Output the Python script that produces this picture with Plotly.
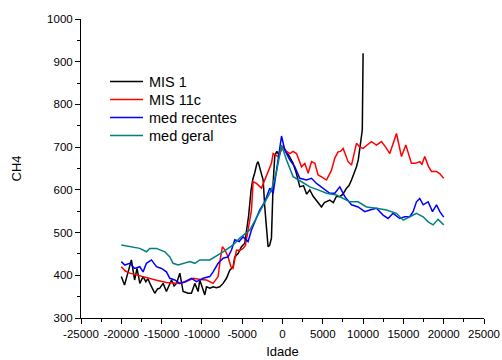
import plotly.graph_objects as go

# ---- data ----
mis1_x = [-20000, -19600, -19150, -18750, -18350, -18050, -17700, -17300, -16950, -16700, -16300, -15850,
          -15500, -15230, -14810, -14400, -14100, -13770, -13450, -13150, -12740, -12330, -11710, -11300,
          -10880, -10470, -10260, -9850, -9640, -9430, -9000, -8610, -8200, -7780, -7370, -6950, -6540,
          -6130, -5920, -5510, -5090, -4680, -4470, -4200, -3900, -3680, -3440, -3200, -3030, -2800, -2600,
          -2400, -2200, -1990, -1790, -1600, -1370, -1160, -955, -700, -400, -120, 80, 400, 800, 1315, 1700,
          2150, 2600, 3000, 3390, 3800, 4200, 4840, 5200, 5870, 6300, 6700, 7110, 7500, 7940, 8250, 8560,
          8900, 9180, 9400, 9590, 9800, 9900, 10000]
mis1_y = [397, 377, 408, 436, 389, 416, 381, 397, 385, 392, 375, 358,
          368, 370, 381, 362, 375, 389, 375, 381, 405, 362, 358, 358,
          381, 362, 389, 362, 354, 373, 370, 373, 371, 373, 381, 393, 412,
          420, 443, 451, 467, 475, 500, 540, 600, 625, 640, 660, 666, 650, 635,
          623, 560, 499, 467, 470, 487, 616, 680, 690, 680, 701, 701, 690, 680, 662, 640,
          607, 610, 590, 600, 585, 575, 560, 570, 576, 570, 585, 584, 590, 604, 610, 623,
          640, 654, 670, 693, 724, 740, 920]

mis11_x = [-20000, -19500, -18950, -18000, -17000, -16470, -15500, -14400, -13500, -12740, -12000, -11090,
           -10200, -9430, -8610, -7990, -7700, -7450, -7100, -6750, -6400, -6130, -5710, -5300, -4890, -4600,
           -4270, -3850, -3650, -3230, -2610, -1990, -1370, -1160, -550, -120, 80, 500, 910, 1300, 1740, 2360,
           2770, 3180, 3600, 4010, 4420, 4900, 5460, 6080, 6500, 6900, 7200, 7520, 8140, 8560, 9180, 9600,
           10000, 10500, 11040, 11660, 12280, 12800, 13310, 14140, 14760, 15300, 16000, 16500, 17030, 17300,
           17650, 18100, 18490, 19110, 19500, 20000]
mis11_y = [420, 410, 405, 400, 396, 393, 388, 383, 382, 381, 385, 393,
           390, 389, 381, 397, 440, 467, 458, 443, 420, 416, 459, 458, 463, 470,
           506, 553, 619, 615, 604, 631, 662, 685, 678, 693, 701, 690, 685, 690, 685, 654,
           662, 639, 666, 662, 635, 630, 623, 646, 675, 689, 690, 697, 666, 658, 709, 700,
           697, 705, 713, 705, 713, 700, 685, 732, 678, 705, 662, 662, 666, 660,
           678, 655, 643, 643, 638, 627]

rec_x = [-20000, -19570, -18950, -18330, -17710, -17300, -16880, -16260, -15640, -15010, -14400, -13980,
         -13360, -12740, -12120, -11290, -10670, -9850, -9020, -8610, -7990, -7370, -6750, -6330, -5920,
         -5380, -4890, -4270, -3850, -3300, -2820, -2200, -1580, -1160, -740, -330, -120, 290, 910, 1530,
         2150, 2980, 3600, 4220, 5040, 5870, 6490, 7110, 7730, 8560, 9380, 10210, 10830, 11660, 12480,
         13100, 13720, 14550, 15170, 15790, 16200, 16620, 17030, 17450, 18070, 18610, 19110, 19520, 20000]
rec_y = [432, 424, 428, 416, 420, 408, 428, 436, 420, 416, 408, 393,
         389, 381, 385, 393, 385, 393, 397, 408, 428, 440, 443, 459, 483,
         479, 490, 479, 506, 530, 553, 572, 604, 592, 646, 701, 726, 693, 670, 654,
         627, 623, 627, 615, 604, 592, 592, 607, 584, 565, 560, 549, 553, 557, 541,
         533, 545, 533, 537, 537, 549, 572, 580, 565, 572, 549, 565, 549, 536]

ger_x = [-20000, -18950, -17710, -16880, -16470, -15640, -15010, -14600, -13980, -13570, -12950, -12330,
         -11500, -10880, -10260, -9020, -8190, -7370, -6130, -5300, -4060, -2820, -1990, -1370, -740, -330,
         -120, 500, 1315, 2360, 3390, 4420, 5460, 6700, 7520, 8350, 9380, 10420, 11660, 12900, 14140,
         14970, 15790, 16620, 17450, 18070, 18690, 19300, 20000]
ger_y = [471, 467, 463, 455, 463, 463, 459, 455, 443, 428, 424, 428,
         432, 428, 436, 436, 445, 455, 471, 487, 506, 549, 576, 600, 643, 682,
         705, 670, 631, 619, 607, 600, 592, 588, 580, 572, 572, 560, 557, 553, 545,
         529, 537, 545, 537, 525, 518, 531, 518]

names = ["MIS 1", "MIS 11c", "med recentes", "med geral"]
colors = ["#000000", "#FF0000", "#0000FF", "#008080"]

x_tickvals = [-25000, -20000, -15000, -10000, -5000, 0, 5000, 10000, 15000, 20000, 25000]
x_ticktext = ["-25000", "-20000", "-15000", "-10000", "-5000", "0", "5000", "10000", "15000", "20000", "25000"]
y_tickvals = [300, 400, 500, 600, 700, 800, 900, 1000]

FONT = "Arial, Liberation Sans, sans-serif"

W, H = 502, 360
ML, MR, MT, MB = 81, 18, 19, 42
PW, PH = W - ML - MR, H - MT - MB

fig = go.Figure()
for xs, ys, nm, col in zip([mis1_x, mis11_x, rec_x, ger_x], [mis1_y, mis11_y, rec_y, ger_y], names, colors):
    fig.add_trace(go.Scatter(x=xs, y=ys, mode="lines", name=nm, showlegend=False,
                             line=dict(color=col, width=1.5)))

# legend drawn as paper-positioned shapes + text (compact row spacing like the reference)
leg_line_x0, leg_line_x1, leg_text_x = 110, 143, 147
leg_rows = [81.5, 99.5, 117.5, 135.5]
for nm, col, ry in zip(names, colors, leg_rows):
    yp = (H - MB - ry) / PH
    fig.add_shape(type="line", xref="paper", yref="paper",
                  x0=(leg_line_x0 - ML) / PW, x1=(leg_line_x1 - ML) / PW, y0=yp, y1=yp,
                  line=dict(color=col, width=1.5))
    fig.add_annotation(xref="paper", yref="paper", x=(leg_text_x - ML) / PW, y=yp,
                       xanchor="left", yanchor="middle", showarrow=False, text=nm,
                       font=dict(family=FONT, size=14.5, color="black"))

axis_common = dict(showgrid=False, zeroline=False, showline=True, linecolor="black", linewidth=1,
                   ticks="outside", ticklen=5, tickwidth=1, tickcolor="black", automargin=False,
                   tickfont=dict(family=FONT, size=11.5, color="black"))

fig.update_layout(
    width=W, height=H,
    margin=dict(l=ML, r=MR, t=MT, b=MB),
    paper_bgcolor="white", plot_bgcolor="white",
    font=dict(family=FONT, color="black"),
    xaxis=dict(range=[-25000, 25000], tickvals=x_tickvals, ticktext=x_ticktext,
               minor=dict(dtick=2500, tick0=0, ticks="outside", ticklen=3, tickcolor="black"),
               title=dict(text="Idade", font=dict(family=FONT, size=13), standoff=8),
               **axis_common),
    yaxis=dict(range=[300, 1000], tickvals=y_tickvals,
               minor=dict(dtick=50, tick0=0, ticks="outside", ticklen=3, tickcolor="black"),
               title=dict(text="CH4", font=dict(family=FONT, size=13), standoff=22),
               **axis_common),
    showlegend=False,
)

fig.write_html("out.html")
